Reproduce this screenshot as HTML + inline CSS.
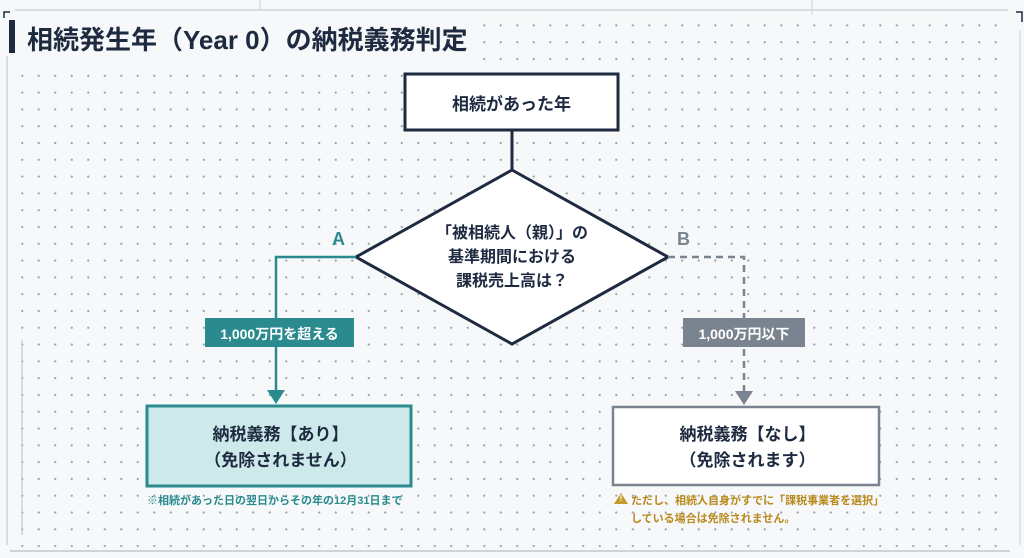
<!DOCTYPE html>
<html><head><meta charset="utf-8"><style>
html,body{margin:0;padding:0}
body{width:1024px;height:558px;position:relative;overflow:hidden;background:#f7f8f9;font-family:"Liberation Sans","Noto Sans CJK JP",sans-serif;}
.grid{position:absolute;left:10px;top:15px;width:996px;height:532px;background-image:radial-gradient(circle,#9aa2ab 0.9px,transparent 1.3px);background-size:16.5px 16.8px;background-position:4px 2px}
.t{position:absolute;white-space:nowrap;font-weight:bold}
</style></head><body>
<div class="grid"></div>
<div style="position:absolute;left:0;top:14px;width:472px;height:46px;background:#f7f8f9"></div>
<svg width="1024" height="558" style="position:absolute;left:0;top:0">
<line x1="15" y1="10" x2="1008" y2="10" stroke="#cfd3d8" stroke-width="1.5"/>
<line x1="260" y1="0" x2="260" y2="10" stroke="#cfd3d8"/>
<line x1="812" y1="0" x2="812" y2="15" stroke="#cfd3d8"/>
<line x1="7" y1="56" x2="7" y2="545" stroke="#cfd3d8" stroke-width="1.5"/>
<line x1="10" y1="551" x2="1010" y2="551" stroke="#cfd3d8" stroke-width="2"/>
<line x1="1020" y1="30" x2="1020" y2="545" stroke="#cfd3d8"/>
<path d="M4 18V12H10M1016 12H1022V22" fill="none" stroke="#1e2a40" stroke-width="1.5"/>
<line x1="22" y1="340" x2="22" y2="535" stroke="#b8bec5"/>
<rect x="9" y="20" width="6" height="33" fill="#1e2a40"/>
<rect x="405" y="74" width="213" height="56" fill="#fff" stroke="#1e2a40" stroke-width="3"/>
<line x1="512" y1="130" x2="512" y2="170" stroke="#1e2a40" stroke-width="3"/>
<polygon points="512,170 668,257 512,344 356,257" fill="#fff" stroke="#1e2a40" stroke-width="3"/>
<polyline points="356,257 276,257 276,392" fill="none" stroke="#2a8a8e" stroke-width="2.5"/>
<polygon points="267,390 285,390 276,404" fill="#2a8a8e"/>
<polyline points="668,257 744,257 744,392" fill="none" stroke="#7a8490" stroke-width="2.5" stroke-dasharray="7,5"/>
<polygon points="735,391 753,391 744,405" fill="#7a8490"/>
<rect x="205" y="318" width="149" height="29" fill="#2a8a8e"/>
<rect x="683" y="318" width="122" height="29" fill="#7a8490"/>
<rect x="147" y="406" width="264" height="80" fill="#cde9ea" stroke="#2a8a8e" stroke-width="3"/>
<rect x="613" y="407" width="266" height="78" fill="#fff" stroke="#7a8490" stroke-width="2.5"/>
<polygon points="614,504 621,493 628,504" fill="#c49a2a"/>
</svg>
<div class="t" style="left:27px;top:20px;font-size:26px;color:#1e2a40">相続発生年（Year 0）の納税義務判定</div>
<div class="t" style="left:405px;top:90px;width:213px;text-align:center;font-size:17px;color:#1e2a40">相続があった年</div>
<div class="t" style="left:412px;top:222px;width:200px;text-align:center;font-size:16px;line-height:24px;color:#1e2a40">「被相続人（親）」の<br>基準期間における<br>課税売上高は？</div>
<div class="t" style="left:332px;top:229px;font-size:18px;color:#2a8a8e">A</div>
<div class="t" style="left:677px;top:229px;font-size:18px;color:#7a8490">B</div>
<div class="t" style="left:205px;top:324px;width:149px;text-align:center;font-size:14px;color:#fff">1,000万円を超える</div>
<div class="t" style="left:683px;top:324px;width:122px;text-align:center;font-size:14px;color:#fff">1,000万円以下</div>
<div class="t" style="left:147px;top:422px;width:267px;text-align:center;font-size:17px;line-height:26px;color:#1e2a40">納税義務【あり】<br>（免除されません）</div>
<div class="t" style="left:613px;top:422px;width:269px;text-align:center;font-size:17px;line-height:26px;color:#1e2a40">納税義務【なし】<br>（免除されます）</div>
<div class="t" style="left:147px;top:492px;font-size:11px;color:#2a8a8e">※相続があった日の翌日からその年の12月31日まで</div>
<div class="t" style="left:631px;top:492px;font-size:11px;line-height:18px;color:#b8891c">ただし、相続人自身がすでに「課税事業者を選択」<br>している場合は免除されません。</div>
<div class="t" style="left:614px;top:494px;font-size:8px;color:#fff;width:14px;text-align:center">!</div>
</body></html>
